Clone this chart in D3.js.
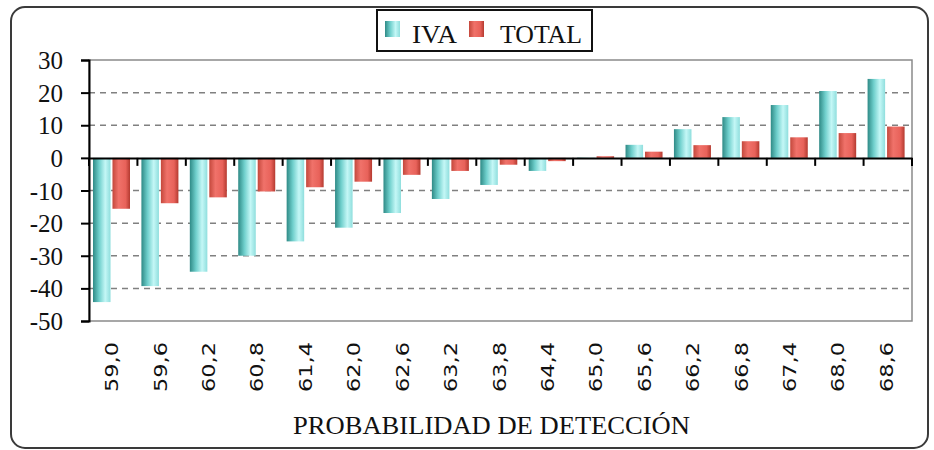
<!DOCTYPE html>
<html>
<head>
<meta charset="utf-8">
<script src="https://cdn.jsdelivr.net/npm/d3@7"></script>
<style>
  body { margin: 0; background: #fff; }
  svg { display: block; }
</style>
</head>
<body>
<div id="chart"></div>
<script>
const categories = ['59,0', '59,6', '60,2', '60,8', '61,4', '62,0', '62,6', '63,2', '63,8',
  '64,4', '65,0', '65,6', '66,2', '66,8', '67,4', '68,0', '68,6'];
const ivaValues = [-44.2, -39.3, -34.9, -30.0, -25.6, -21.4, -16.9, -12.6, -8.3,
  -4.0, 0.1, 4.0, 8.8, 12.5, 16.2, 20.5, 24.2];
const totalValues = [-15.6, -13.9, -12.1, -10.3, -9.0, -7.3, -5.2, -4.0, -2.1,
  -1.0, 0.5, 1.9, 3.9, 5.1, 6.3, 7.6, 9.6];
const seriesNames = ['IVA', 'TOTAL'];
const yTicks = [30, 20, 10, 0, -10, -20, -30, -40, -50];

const width = 934, height = 450;
const margin = { top: 60, right: 22, bottom: 129, left: 89 };

const svg = d3.select('#chart')
  .append('svg')
  .attr('width', width)
  .attr('height', height);

// Gradients for the Excel-like cylinders
const defs = svg.append('defs');
const gIva = defs.append('linearGradient').attr('id', 'gradIva')
  .attr('x1', '0%').attr('x2', '100%').attr('y1', '0%').attr('y2', '0%');
gIva.append('stop').attr('offset', '0%').attr('stop-color', '#2f8a86');
gIva.append('stop').attr('offset', '35%').attr('stop-color', '#6fcfcc');
gIva.append('stop').attr('offset', '70%').attr('stop-color', '#c4f7f6');
gIva.append('stop').attr('offset', '100%').attr('stop-color', '#8fdedd');

const gTot = defs.append('linearGradient').attr('id', 'gradTot')
  .attr('x1', '0%').attr('x2', '100%').attr('y1', '0%').attr('y2', '0%');
gTot.append('stop').attr('offset', '0%').attr('stop-color', '#c4483c');
gTot.append('stop').attr('offset', '35%').attr('stop-color', '#f0726a');
gTot.append('stop').attr('offset', '75%').attr('stop-color', '#e8625a');
gTot.append('stop').attr('offset', '100%').attr('stop-color', '#b43a30');

const colors = { IVA: 'url(#gradIva)', TOTAL: 'url(#gradTot)' };

// Outer rounded frame
svg.append('rect')
  .attr('x', 11).attr('y', 7)
  .attr('width', 917).attr('height', 441)
  .attr('rx', 14)
  .attr('fill', 'none')
  .attr('stroke', '#3a3a3a')
  .attr('stroke-width', 2);

const plotW = width - margin.left - margin.right;
const plotH = height - margin.top - margin.bottom;

const g = svg.append('g')
  .attr('transform', `translate(${margin.left},${margin.top})`);

const x = d3.scaleBand()
  .domain(categories)
  .range([0, plotW])
  .padding(0);

const xSub = d3.scaleBand()
  .domain(seriesNames)
  .range([4, 41])
  .paddingInner(0.1);

const y = d3.scaleLinear()
  .domain([-50, 30])
  .range([plotH, 0]);

// Gridlines (dashed)
g.selectAll('.grid')
  .data(yTicks.filter(d => d !== 30 && d !== -50 && d !== 0))
  .enter()
  .append('line')
  .attr('x1', 0).attr('x2', plotW)
  .attr('y1', d => y(d)).attr('y2', d => y(d))
  .attr('stroke', '#808080')
  .attr('stroke-width', 1.5)
  .attr('stroke-dasharray', '6 5');

// Plot area border
g.append('rect')
  .attr('x', 0).attr('y', 0)
  .attr('width', plotW).attr('height', plotH)
  .attr('fill', 'none')
  .attr('stroke', '#8a8a8a')
  .attr('stroke-width', 1.5);

// Bars
const data = categories.map((c, i) => ({ cat: c, IVA: ivaValues[i], TOTAL: totalValues[i] }));

const groups = g.selectAll('.cat')
  .data(data)
  .enter()
  .append('g')
  .attr('transform', d => `translate(${x(d.cat)},0)`);

groups.selectAll('rect')
  .data(d => seriesNames.map(k => ({ key: k, value: d[k] })))
  .enter()
  .append('rect')
  .attr('x', d => xSub(d.key))
  .attr('width', xSub.bandwidth())
  .attr('y', d => y(Math.max(0, d.value)))
  .attr('height', d => Math.abs(y(d.value) - y(0)))
  .attr('fill', d => colors[d.key]);

// Y axis
const yAxis = g.append('g')
  .call(d3.axisLeft(y).tickValues(yTicks).tickSize(8).tickPadding(18).tickFormat(d3.format('d')));
yAxis.select('.domain').attr('stroke', '#000').attr('stroke-width', 2);
yAxis.selectAll('.tick line').attr('stroke', '#000').attr('stroke-width', 2);
yAxis.selectAll('.tick text')
  .attr('font-family', '"Liberation Serif", serif')
  .attr('font-size', 25)
  .attr('fill', '#111')
  .attr('dy', '0.34em')
  .text(d => d < 0 ? '-' + Math.abs(d) : d);

// Zero line with category ticks
const xAxis = g.append('g')
  .attr('transform', `translate(0,${y(0)})`)
  .call(d3.axisBottom(x).tickSize(0).tickFormat(''));
xAxis.select('.domain').attr('stroke', '#000').attr('stroke-width', 2);
xAxis.selectAll('.tick').remove();

g.selectAll('.catTick')
  .data(categories.concat(['end']))
  .enter()
  .append('line')
  .attr('x1', (d, i) => i * x.step()).attr('x2', (d, i) => i * x.step())
  .attr('y1', y(0)).attr('y2', y(0) + 8)
  .attr('stroke', '#000')
  .attr('stroke-width', 2);

// Category labels (rotated)
g.selectAll('.catLabel')
  .data(categories)
  .enter()
  .append('text')
  .attr('transform', d => `translate(${x(d) + x.bandwidth() / 2 - 1},${342 - margin.top}) rotate(-90)`)
  .attr('text-anchor', 'end')
  .attr('dominant-baseline', 'central')
  .attr('font-family', '"DejaVu Sans", sans-serif')
  .attr('font-size', 17)
  .attr('textLength', 50)
  .attr('lengthAdjust', 'spacingAndGlyphs')
  .attr('fill', '#111')
  .text(d => d);

// Axis title
svg.append('text')
  .attr('x', 293)
  .attr('y', 434)
  .attr('font-family', '"Liberation Serif", serif')
  .attr('font-size', 26)
  .attr('textLength', 397)
  .attr('lengthAdjust', 'spacingAndGlyphs')
  .attr('fill', '#111')
  .text('PROBABILIDAD DE DETECCIÓN');

// Legend
const legend = svg.append('g');
legend.append('rect')
  .attr('x', 377).attr('y', 10)
  .attr('width', 215).attr('height', 41)
  .attr('fill', '#fff')
  .attr('stroke', '#111')
  .attr('stroke-width', 2);

const legendItems = [
  { key: 'IVA', sx: 385, tx: 412, tw: 45 },
  { key: 'TOTAL', sx: 469, tx: 500, tw: 82 }
];
legend.selectAll('.sw')
  .data(legendItems)
  .enter()
  .append('rect')
  .attr('x', d => d.sx).attr('y', 21)
  .attr('width', 15).attr('height', 16)
  .attr('fill', d => colors[d.key]);
legend.selectAll('.lt')
  .data(legendItems)
  .enter()
  .append('text')
  .attr('x', d => d.tx).attr('y', 43)
  .attr('font-family', '"Liberation Serif", serif')
  .attr('font-size', 26)
  .attr('textLength', d => d.tw)
  .attr('lengthAdjust', 'spacingAndGlyphs')
  .attr('fill', '#111')
  .text(d => d.key);
</script>
</body>
</html>
